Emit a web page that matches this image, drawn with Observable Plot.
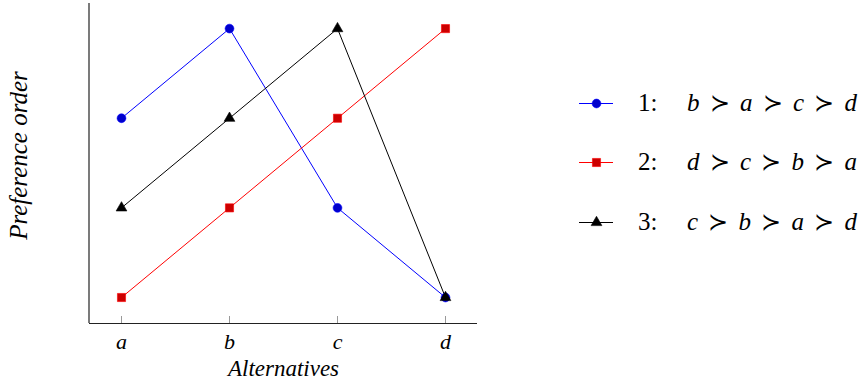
<!DOCTYPE html>
<html><head><meta charset="utf-8">
<script src="https://cdn.jsdelivr.net/npm/d3@7"></script>
<script src="https://cdn.jsdelivr.net/npm/@observablehq/plot@0.6"></script>
<style>
body{margin:0;background:#fff;}
#wrap{position:relative;width:859px;height:388px;font-family:"Liberation Serif",serif;color:#000;}
#wrap > svg{position:absolute;left:0;top:0;}
#wrap > svg text{font-family:"Liberation Serif",serif !important;}
.row{position:absolute;left:578px;height:30px;width:281px;font-size:25px;}
.row svg{position:absolute;left:0;top:0;}
.row .num{position:absolute;left:60px;top:0;line-height:30px;}
.row .ord{position:absolute;left:109px;top:0;width:170px;line-height:30px;white-space:nowrap;display:flex;justify-content:space-between;}
.row .ord i{font-style:italic;}
.row .ord .rel{font-size:24px;}
</style></head><body><div id="wrap"></div>
<script>
// ---- data ----
const alternatives = ["a", "b", "c", "d"];
const seriesNames = ["1", "2", "3"];
const series1 = [3, 4, 2, 1];
const series2 = [1, 2, 3, 4];
const series3 = [2, 3, 4, 1];
const orders = [["b","a","c","d"], ["d","c","b","a"], ["c","b","a","d"]];
const xLabel = "Alternatives";
const yLabel = "Preference order";

// ---- styles ----
const FONT = "Liberation Serif";
const styles = [
  {line: "#0000ff", fill: "#0000cc", symbol: "circle", r: 4.4},
  {line: "#ff0000", fill: "#cc0000", symbol: "square", r: 4.6},
  {line: "#000000", fill: "#000000", symbol: "triangle", r: 4.0}
];
const ranks = [series1, series2, series3];
const tables = ranks.map((vals, i) => alternatives.map((a, j) => ({series: seriesNames[i], alt: a, rank: vals[j]})));

const yMin = 0.71, yMax = 4.28;

const marks = [
  Plot.ruleY([yMin], {stroke: "#222", strokeWidth: 1.2}),
  (index, scales, values, dims) => {
    const l = document.createElementNS("http://www.w3.org/2000/svg", "line");
    l.setAttribute("x1", dims.marginLeft); l.setAttribute("x2", dims.marginLeft);
    l.setAttribute("y1", dims.marginTop); l.setAttribute("y2", dims.height - dims.marginBottom);
    l.setAttribute("stroke", "#222"); l.setAttribute("stroke-width", 1.2);
    return l;
  },
  Plot.axisX({tickSize: -7, tickPadding: 17, fontSize: 22, fontStyle: "italic", fontFamily: FONT, stroke: "#999", label: null}),
  Plot.text([xLabel], {frameAnchor: "bottom", dy: 52, fontSize: 23, fontStyle: "italic", fontFamily: FONT}),
  Plot.text([yLabel], {frameAnchor: "left", textAnchor: "middle", dx: -71, dy: -8, rotate: -90, fontSize: 25, fontStyle: "italic", fontFamily: FONT})
];
tables.forEach((t, i) => {
  const s = styles[i];
  marks.push(Plot.line(t, {x: "alt", y: "rank", stroke: s.line, strokeWidth: 1}));
});
tables.forEach((t, i) => {
  const s = styles[i];
  marks.push(Plot.dot(t, {x: "alt", y: "rank", symbol: s.symbol, r: s.r, fill: s.fill, stroke: s.line, strokeWidth: 0.6}));
});

const chart = Plot.plot({
  width: 859, height: 388,
  marginLeft: 89, marginRight: 382, marginTop: 3, marginBottom: 65,
  style: {background: "transparent", fontFamily: FONT},
  x: {type: "point", domain: alternatives, padding: 0.29, axis: null},
  y: {domain: [yMin, yMax], axis: null},
  marks
});
const wrap = document.getElementById("wrap");
wrap.appendChild(chart);

// ---- legend ----
const rowCenters = [103, 162, 222];
seriesNames.forEach((name, i) => {
  const s = styles[i];
  const row = document.createElement("div");
  row.className = "row";
  row.style.top = (rowCenters[i] - 15) + "px";
  const leg = Plot.plot({
    width: 40, height: 30, margin: 0,
    x: {domain: [0, 1], axis: null}, y: {domain: [0, 1], axis: null},
    marks: [
      Plot.ruleY([0.5], {x1: 0.025, x2: 0.875, stroke: s.line, strokeWidth: 1}),
      Plot.dot([0.45], {x: d => d, y: 0.5, symbol: s.symbol, r: s.r, fill: s.fill, stroke: s.line, strokeWidth: 0.6})
    ]
  });
  row.appendChild(leg);
  const num = document.createElement("span");
  num.className = "num"; num.textContent = name + ":";
  row.appendChild(num);
  const ord = document.createElement("span");
  ord.className = "ord";
  orders[i].forEach((a, k) => {
    if (k > 0) { const r = document.createElement("span"); r.className = "rel"; r.textContent = "≻"; ord.appendChild(r); }
    const it = document.createElement("i"); it.textContent = a; ord.appendChild(it);
  });
  row.appendChild(ord);
  wrap.appendChild(row);
});
</script></body></html>
